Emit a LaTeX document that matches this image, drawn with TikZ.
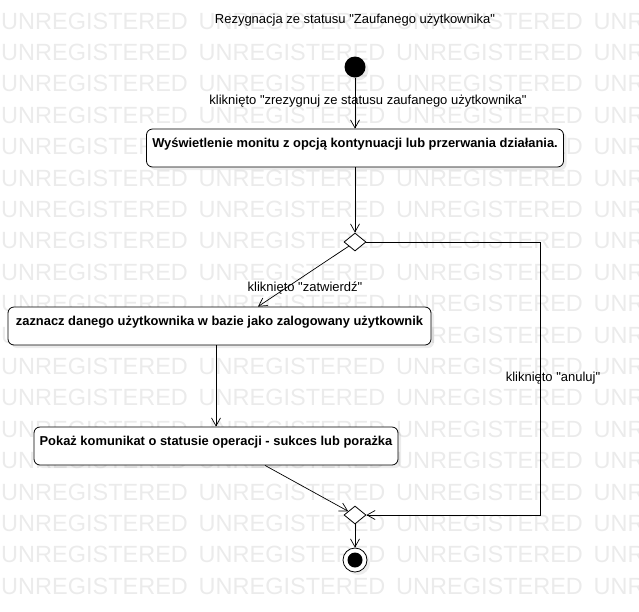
\documentclass[tikz,border=0pt]{standalone}
\usepackage{fontspec}
\setmainfont{Liberation Sans}[Ligatures=TeXOff]
\usetikzlibrary{arrows.meta,shapes.geometric,shadows}

\tikzset{
  akcja/.style={draw,line width=0.8pt,rounded corners=6pt,fill=white,
    font=\bfseries\fontsize{12.9}{14}\selectfont,
    text height=14pt,text depth=16pt,inner xsep=3pt,inner ysep=4pt,
    drop shadow={shadow xshift=3pt,shadow yshift=-3pt,opacity=0.15}},
  decyzja/.style={draw,diamond,line width=0.8pt,fill=white,
    minimum width=22pt,minimum height=18pt,inner sep=0pt},
  przejscie/.style={-{Straight Barb[length=8pt,width=9pt]},line width=0.7pt},
  etykieta/.style={font=\fontsize{13}{15}\selectfont,inner sep=1pt},
  znak/.style={text=black!8,font=\fontsize{23.5}{24}\selectfont,
    anchor=base west,inner sep=0pt}
}

\begin{document}
\begin{tikzpicture}[x=1pt,y=-1pt]
  \useasboundingbox (0,0) rectangle (639,611);

% watermark
  \foreach \j in {0,...,18}
    \foreach \i in {0,...,3}
      \node[znak] (wm-\i-\j) at (1+197.5*\i,29+31.4*\j) {UNREGISTERED};

% title
  \node[etykieta] (tytul) at (355,20) {Rezygnacja ze statusu "Zaufanego użytkownika"};

% start and end
  \node[circle,fill=black,minimum size=21pt,inner sep=0pt,
    drop shadow={shadow xshift=3pt,shadow yshift=-3pt,opacity=0.15}] (start) at (355,67) {};
  \node[circle,draw,line width=0.8pt,fill=white,minimum size=24pt,inner sep=0pt,
    drop shadow={shadow xshift=3pt,shadow yshift=-3pt,opacity=0.15}] (koniec) at (355,560) {};
  \node[circle,fill=black,minimum size=15pt,inner sep=0pt] (koniec-srodek) at (koniec) {};

% actions
  \node[akcja,minimum width=417pt] (monit) at (355,148)
    {Wyświetlenie monitu z opcją kontynuacji lub przerwania działania.};
  \node[akcja,minimum width=423pt] (zaznacz) at (219.5,326)
    {zaznacz danego użytkownika w bazie jako zalogowany użytkownik};
  \node[akcja,minimum width=364pt] (pokaz) at (216,446)
    {Pokaż komunikat o statusie operacji - sukces lub porażka};

% decisions
  \node[decyzja] (d1) at (355,242) {};
  \node[decyzja] (d2) at (355,515) {};
  \coordinate (zakret) at (540,242);

% transitions
  \draw[przejscie] (start) -- (monit);
  \node[etykieta] (l-rezygnuj) at (368,101) {kliknięto "zrezygnuj ze statusu zaufanego użytkownika"};
  \draw[przejscie] (monit) -- (d1);
  \draw[przejscie] (d1) -- ([xshift=38.5pt]zaznacz.north);
  \node[etykieta] (l-zatwierdz) at (305,288) {kliknięto "zatwierdź"};
  \draw[przejscie] (pokaz.north |- zaznacz.south) -- (pokaz.north);
  \draw[przejscie] ([xshift=49pt]pokaz.south) -- (d2);
  \draw[przejscie] (d1.east) -- (zakret) |- (d2.east);
  \node[etykieta] (l-anuluj) at (553,378) {kliknięto "anuluj"};
  \draw[przejscie] (d2) -- (koniec);

\end{tikzpicture}
\end{document}
